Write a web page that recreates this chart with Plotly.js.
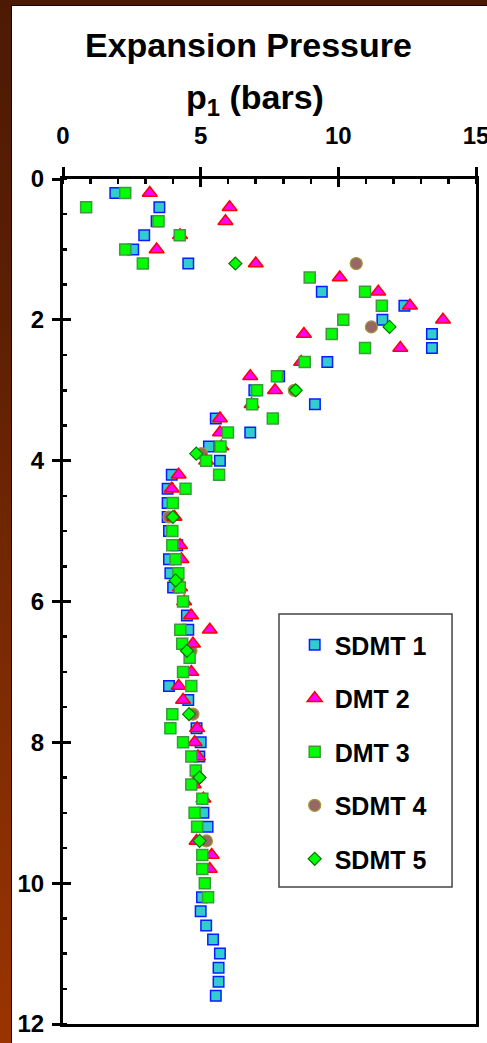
<!DOCTYPE html>
<html>
<head>
<meta charset="utf-8">
<script src="https://cdn.plot.ly/plotly-3.0.1.min.js"></script>
<style>
  html, body {
    margin: 0; padding: 0; width: 487px; height: 1043px; overflow: hidden;
    background: linear-gradient(to bottom, #4c1a04 0%, #5c1f04 30%, #7a2a03 62%, #9a3400 100%);
  }
  #chart {
    position: absolute; left: 11px; top: 5px; width: 475px; height: 1037px;
    background: #ffffff; border-left: 1px solid #140600; border-top: 1px solid #140600;
  }
</style>
</head>
<body>
<div id="chart"></div>
<script>
// Expansion pressure p1 (bars) against depth (m) for five soundings

const sdmt1Depth = [0.2, 0.4, 0.6, 0.8, 1.0, 1.2, 1.6, 1.8, 2.0, 2.2, 2.4, 2.6, 2.8, 3.0, 3.2, 3.4, 3.6, 3.8, 4.0,
  4.2, 4.4, 4.6, 4.8, 5.0, 5.2, 5.4, 5.6, 5.8, 6.2, 6.4, 7.2, 7.4, 7.8, 8.0, 8.2, 9.0, 9.2,
  10.2, 10.4, 10.6, 10.8, 11.0, 11.2, 11.4, 11.6];
const sdmt1P1 = [1.9, 3.5, 3.4, 2.95, 2.55, 4.55, 9.4, 12.4, 11.6, 13.4, 13.4, 9.6, 7.85, 6.95, 9.15, 5.55, 6.8, 5.3, 5.7,
  3.95, 3.8, 3.8, 3.8, 3.85, 4.15, 3.85, 3.9, 4.0, 4.5, 4.55, 3.85, 4.55, 4.85, 5.0, 4.95, 5.1, 5.25,
  5.05, 5.0, 5.2, 5.45, 5.7, 5.65, 5.65, 5.55];

const dmt2Depth = [0.2, 0.4, 0.6, 0.8, 1.0, 1.2, 1.4, 1.6, 1.8, 2.0, 2.2, 2.4, 2.6, 2.8, 3.0, 3.2, 3.4, 3.6, 3.8, 4.0,
  4.2, 4.4, 4.8, 5.2, 5.4, 5.8, 6.0, 6.2, 6.4, 6.6, 7.0, 7.2, 7.4, 7.8, 8.0, 8.2, 8.6, 8.8, 9.4, 9.6, 9.8];
const dmt2P1 = [3.15, 6.05, 5.9, 4.25, 3.4, 7.0, 10.05, 11.45, 12.6, 13.8, 8.75, 12.25, 8.65, 6.8, 7.7, 6.85, 5.7, 5.7, 5.75, 5.2,
  4.2, 3.95, 4.05, 4.25, 4.3, 4.25, 4.4, 4.65, 5.33, 4.72, 4.66, 4.2, 4.36, 4.87, 4.78, 4.9, 4.75, 5.1, 4.85, 5.4, 5.33];

const dmt3Depth = [0.2, 0.4, 0.6, 0.8, 1.0, 1.2, 1.4, 1.6, 1.8, 2.0, 2.2, 2.4, 2.6, 2.8, 3.0, 3.2, 3.4, 3.6, 3.8, 4.0,
  4.2, 4.4, 4.6, 5.0, 5.2, 5.4, 5.6, 5.8, 6.0, 6.4, 6.6, 6.8, 7.0, 7.2, 7.6, 7.8, 8.0, 8.2, 8.4, 8.6, 8.8,
  9.0, 9.2, 9.6, 9.8, 10.0, 10.2];
const dmt3P1 = [2.26, 0.84, 3.47, 4.24, 2.26, 2.9, 8.96, 10.97, 11.58, 10.18, 9.76, 10.97, 8.78, 7.77, 7.05, 6.87, 7.62, 5.99, 5.72, 5.2,
  5.67, 4.45, 3.99, 3.97, 3.97, 4.09, 4.19, 4.24, 4.36, 4.26, 4.33, 4.6, 4.36, 4.66, 3.97, 3.9, 4.36, 4.66, 4.82, 4.66, 5.06,
  4.78, 4.87, 5.06, 5.06, 5.15, 5.27];

const sdmt4Depth = [1.2, 2.1, 3.0, 3.9, 4.8, 5.7, 6.7, 7.6, 8.5, 9.4];
const sdmt4P1 = [10.65, 11.2, 8.4, 5.03, 3.85, 4.17, 4.65, 4.72, 4.9, 5.21];

const sdmt5Depth = [1.2, 2.1, 3.0, 3.9, 4.8, 5.7, 6.7, 7.6, 8.5, 9.4];
const sdmt5P1 = [6.26, 11.86, 8.45, 4.84, 3.99, 4.09, 4.5, 4.58, 4.96, 4.96];

const xTicks = [0, 5, 10, 15];
const yTicks = [0, 2, 4, 6, 8, 10, 12];

const FONT = 'Liberation Sans, Arial, Helvetica, sans-serif';

function series(name, rank, xs, ys, marker) {
  return {
    type: 'scatter', mode: 'markers', name: name,
    x: xs, y: ys, legendrank: rank, legendgroup: name,
    marker: marker, cliponaxis: false
  };
}

const traces = [
  series('SDMT 1', 1, sdmt1P1, sdmt1Depth,
    {symbol: 'square', size: 10.5, color: '#33cccc', line: {color: '#0a1cff', width: 1.5}}),
  series('SDMT 4', 4, sdmt4P1, sdmt4Depth,
    {symbol: 'circle', size: 12, color: '#996666', line: {color: '#a09a3a', width: 1.2}}),
  series('DMT 2', 2, dmt2P1, dmt2Depth,
    {symbol: 'triangle-up', size: 13, color: '#ff00ff', line: {color: '#ff0000', width: 1.5}}),
  series('DMT 3', 3, dmt3P1, dmt3Depth,
    {symbol: 'square', size: 11, color: '#00ff00', line: {color: '#3c9a3c', width: 1.5}}),
  series('SDMT 5', 5, sdmt5P1, sdmt5Depth,
    {symbol: 'diamond', size: 10, color: '#00ff00', line: {color: '#007a00', width: 1.2}}),
  // empty trace that carries the overlay axes used for the inward half of the major ticks
  {type: 'scatter', mode: 'markers', x: [], y: [], xaxis: 'x2', yaxis: 'y2', showlegend: false, hoverinfo: 'skip'}
];

const tickFont = {family: FONT, size: 24, color: '#000', weight: 'bold'};

const layout = {
  width: 475, height: 1037, autosize: false,
  margin: {l: 51, r: 11, t: 173, b: 19},
  paper_bgcolor: '#ffffff', plot_bgcolor: '#ffffff',
  showlegend: true,
  xaxis: {
    range: [0, 15], side: 'top', tickvals: xTicks, ticktext: xTicks.map(String),
    ticks: 'outside', ticklen: 9, tickwidth: 3, tickcolor: '#000',
    showline: true, linewidth: 3, linecolor: '#000', mirror: true,
    showgrid: false, zeroline: false, tickfont: tickFont, ticklabelstandoff: 13,
    ticklabeloverflow: 'allow',
    minor: {dtick: 1, ticks: 'inside', ticklen: 5, tickwidth: 2.5, tickcolor: '#000', showgrid: false}
  },
  yaxis: {
    range: [12, 0], tickvals: yTicks, ticktext: yTicks.map(String),
    ticks: 'outside', ticklen: 8, tickwidth: 3, tickcolor: '#000',
    showline: true, linewidth: 3, linecolor: '#000', mirror: true,
    showgrid: false, zeroline: false, tickfont: tickFont, ticklabelstandoff: 3,
    ticklabeloverflow: 'allow',
    minor: {dtick: 0.5, ticks: 'inside', ticklen: 4, tickwidth: 2.5, tickcolor: '#000', showgrid: false}
  },
  xaxis2: {
    overlaying: 'x', matches: 'x', anchor: 'y2', side: 'top', range: [0, 15],
    tickvals: xTicks, ticks: 'inside', ticklen: 8, tickwidth: 3, tickcolor: '#000',
    showticklabels: false, showline: false, showgrid: false, zeroline: false
  },
  yaxis2: {
    overlaying: 'y', matches: 'y', anchor: 'x2', side: 'left', range: [12, 0],
    tickvals: yTicks, ticks: 'inside', ticklen: 8, tickwidth: 3, tickcolor: '#000',
    showticklabels: false, showline: false, showgrid: false, zeroline: false
  },
  legend: {
    x: 0.561, y: 0.4757, xanchor: 'left', yanchor: 'top',
    bgcolor: 'rgba(0,0,0,0)', borderwidth: 0, tracegroupgap: 18,
    font: {family: FONT, size: 25, color: '#000', weight: 'bold'}
  },
  shapes: [{
    type: 'rect', xref: 'paper', yref: 'paper',
    x0: 0.523, x1: 0.942, y0: 0.1621, y1: 0.4852,
    line: {color: '#444', width: 1.5}, fillcolor: 'rgba(0,0,0,0)'
  }],
  annotations: [
    {text: 'Expansion Pressure', xref: 'paper', yref: 'paper', x: 0.448, y: 1.159,
     xanchor: 'center', yanchor: 'middle', showarrow: false,
     font: {family: FONT, size: 34, color: '#000', weight: 'bold'}},
    {text: 'p<sub>1</sub> (bars)', xref: 'paper', yref: 'paper', x: 0.465, y: 1.094,
     xanchor: 'center', yanchor: 'middle', showarrow: false,
     font: {family: FONT, size: 34, color: '#000', weight: 'bold'}}
  ]
};

Plotly.newPlot('chart', traces, layout, {displayModeBar: false, staticPlot: true});
</script>
</body>
</html>
